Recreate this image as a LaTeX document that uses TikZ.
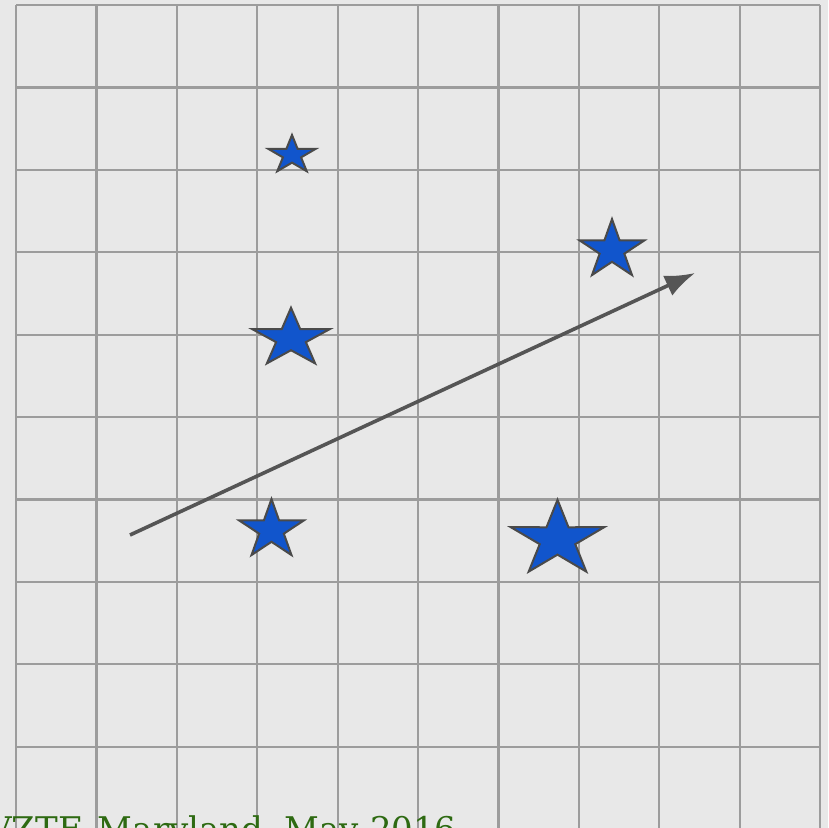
\documentclass[tikz,border=0pt]{standalone}
\usepackage{fontspec}
\setmainfont{DejaVu Serif}
\usetikzlibrary{arrows.meta,shapes.geometric}
\definecolor{paper}{HTML}{E8E8E8}
\definecolor{gridline}{HTML}{9C9C9C}
\definecolor{starblue}{HTML}{1155CC}
\definecolor{staredge}{HTML}{4A4A4A}
\definecolor{arrowgrey}{HTML}{555555}
\definecolor{footgreen}{HTML}{2E6A12}

\begin{document}
\begin{tikzpicture}[
  x=1pt, y=-1pt,
  gridrule/.style={draw=gridline,line width=2.2pt},
  bluestar/.style={star,star points=5,star point ratio=2.62,draw=staredge,
    fill=starblue,line width=2pt,inner sep=0pt,transform shape},
  ar/.style={-{Latex[length=30pt,width=22pt]},line width=3.6pt,arrowgrey},
  footer/.style={footgreen,font=\fontsize{34}{40}\selectfont,anchor=base west,inner sep=0pt}
]
\useasboundingbox (0,0) rectangle (828,828);
\fill[paper] (0,0) rectangle (828,828);
\clip (0,0) rectangle (828,828);

% ==================== GRID ====================
\foreach \i in {0,...,10}
  \draw[gridrule] ({16+80.4*\i},5) -- ({16+80.4*\i},840);
\foreach \j in {0,...,9}
  \draw[gridrule] (16,{5+82.4*\j}) -- (820,{5+82.4*\j});

% ==================== STARS ====================
\node[bluestar, minimum size=50pt, yscale=0.8] (star_top) at (292,155) {};
\node[bluestar, minimum size=82pt, yscale=0.75] (star_mid) at (291,338.5) {};
\node[bluestar, minimum size=68pt, yscale=0.91] (star_right) at (612,250) {};
\node[bluestar, minimum size=68pt, yscale=0.91] (star_low) at (271.5,530) {};
\node[bluestar, minimum size=98pt, yscale=0.81] (star_big) at (557.5,539.5) {};

% ==================== ARROW ====================
\coordinate (vec_tail) at (130,535);
\coordinate (vec_tip) at (695,273);
\draw[ar] (vec_tail) -- (vec_tip);

% ==================== FOOTER ====================
\node[footer] (footline) at (-13,841) {VZTF, Maryland, May 2016};

\end{tikzpicture}
\end{document}
